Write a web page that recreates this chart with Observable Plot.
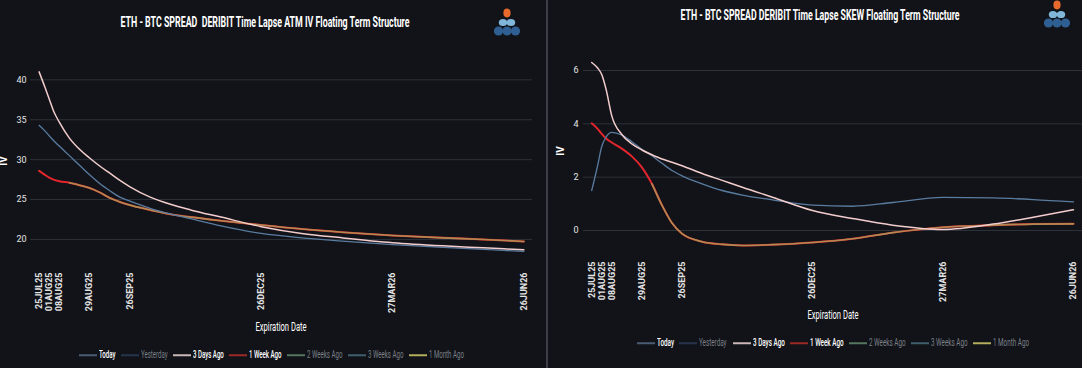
<!DOCTYPE html>
<html>
<head>
<meta charset="utf-8">
<script src="https://cdn.jsdelivr.net/npm/d3@7"></script>
<script src="https://cdn.jsdelivr.net/npm/@observablehq/plot@0.6"></script>
<style>
  html, body { margin:0; padding:0; background:#111318; }
  body { position:relative; width:1082px; height:368px; overflow:hidden; font-family: Roboto, "Liberation Sans", sans-serif; color:#fff; }
  .abs { position:absolute; white-space:pre; line-height:1; }
  .panel { position:absolute; top:0; }
  .divider { position:absolute; left:546px; top:0; width:2px; height:368px; background:#3a3f48; }
  .legend { position:absolute; display:flex; align-items:center; white-space:nowrap; font-size:11.5px; line-height:1; }
  .legend .sw { display:inline-block; width:18px; height:1.6px; margin-right:2px; }
  .legend .tx { display:inline-block; transform-origin:0 50%; }
</style>
</head>
<body>
<script>
// ---------- data ----------
const dates = ["2025-07-25","2025-07-29","2025-08-01","2025-08-04","2025-08-08","2025-08-15","2025-08-22","2025-08-29",
  "2025-09-05","2025-09-12","2025-09-19","2025-09-26","2025-10-10","2025-10-24","2025-11-07","2025-11-28",
  "2025-12-26","2026-01-23","2026-02-20","2026-03-27","2026-05-01","2026-05-29","2026-06-26"];

const expiries = ["2025-07-25","2025-08-01","2025-08-08","2025-08-29","2025-09-26","2025-12-26","2026-03-27","2026-06-26"];
const expiryLabels = ["25JUL25","01AUG25","08AUG25","29AUG25","26SEP25","26DEC25","27MAR26","26JUN26"];

const ivTicks = [20, 25, 30, 35, 40];
const skewTicks = [0, 2, 4, 6];

// ATM IV spread
const ivToday     = [34.3,33.6,33.0,32.4,31.7,30.5,29.3,28.1,27.0,26.1,25.3,24.8,23.9,23.2,22.6,21.7,20.75,20.2,19.8,19.35,19.0,18.75,18.5];
const iv3DaysAgo  = [41.0,39.1,37.6,36.1,34.7,32.7,31.3,30.2,29.2,28.3,27.4,26.6,25.3,24.4,23.7,22.8,21.6,20.75,20.2,19.6,19.2,18.95,18.7];
const iv1WeekAgo  = [28.6,28.1,27.75,27.5,27.3,27.1,26.8,26.45,25.9,25.2,24.7,24.3,23.7,23.15,22.8,22.35,21.8,21.3,20.9,20.5,20.2,20.0,19.75];
const iv1MonthAgo = [null,null,null,null,null,27.1,26.8,26.45,25.9,25.2,24.7,24.3,23.7,23.15,22.8,22.35,21.8,21.3,20.9,20.5,20.2,20.0,19.75];

// SKEW spread
const skToday     = [1.5,2.4,3.15,3.5,3.68,3.58,3.33,3.05,2.8,2.52,2.25,2.05,1.75,1.5,1.33,1.15,0.95,0.91,1.05,1.24,1.22,1.16,1.07];
const sk3DaysAgo  = [6.3,6.1,5.85,5.3,4.3,3.6,3.25,3.02,2.84,2.68,2.56,2.43,2.14,1.88,1.62,1.25,0.75,0.45,0.2,0.04,0.24,0.5,0.78];
const sk1WeekAgo  = [4.02,3.82,3.62,3.45,3.3,3.07,2.78,2.37,1.75,0.95,0.28,-0.12,-0.42,-0.52,-0.56,-0.53,-0.45,-0.31,-0.08,0.12,0.2,0.24,0.25];
const sk1MonthAgo = [null,null,null,null,null,null,null,null,1.75,0.95,0.28,-0.12,-0.42,-0.52,-0.56,-0.53,-0.45,-0.31,-0.08,0.12,0.2,0.24,0.25];

const legendNames  = ["Today","Yesterday","3 Days Ago","1 Week Ago","2 Weeks Ago","3 Weeks Ago","1 Month Ago"];
const legendColors = ["#4a5d75","#27344c","#cbb7b7","#9b2a26","#56775f","#3f5f6c","#b3ad5c"];
const legendActive = [true,false,true,true,false,false,false];

// ---------- helpers ----------
const labelByTime = new Map(expiries.map((d, i) => [+new Date(d), expiryLabels[i]]));

function makeChart(cfg) {
  const rows = [];
  cfg.series.forEach(s => s.values.forEach((v, i) => {
    if (v != null) rows.push({date: new Date(dates[i]), value: v, series: s.name});
  }));
  return Plot.plot({
    width: cfg.width, height: 368,
    marginTop: cfg.top, marginBottom: 368 - cfg.bottom, marginLeft: cfg.ml, marginRight: cfg.mr,
    style: {background: "transparent", color: "#e4e4e4", fontFamily: "Roboto, sans-serif", overflow: "visible"},
    x: {type: "utc", domain: [new Date(expiries[0]), new Date(expiries[expiries.length - 1])], insetLeft: cfg.inL, insetRight: cfg.inR},
    y: {domain: cfg.yDomain},
    marks: [
      Plot.ruleY(cfg.yTicks, {stroke: "#2c313a", strokeWidth: 1}),
      Plot.axisY(cfg.yTicks, {tickSize: 0, tickPadding: cfg.yPad, fontSize: 9, label: null}),
      Plot.axisX(expiries.map(d => new Date(d)), {tickRotate: -90, tickSize: 0, tickPadding: cfg.xPad,
        tickFormat: d => labelByTime.get(+d), fontSize: 9, fontWeight: "bold", label: null}),
      ...cfg.series.map(s => Plot.lineY(rows.filter(r => r.series === s.name),
        {x: "date", y: "value", stroke: s.color, strokeWidth: s.width, curve: "monotone-x"}))
    ]
  });
}

function addText(txt, o) {
  const el = document.createElement("div");
  el.className = "abs";
  el.textContent = txt;
  el.style.left = o.cx + "px";
  el.style.top = o.cy + "px";
  el.style.fontSize = o.size + "px";
  el.style.fontWeight = o.weight || "normal";
  el.style.color = o.color || "#fff";
  document.body.appendChild(el);
  if (o.rotate) {
    el.style.transform = `translate(-50%,-50%) rotate(${o.rotate}deg)`;
  } else {
    const w = el.getBoundingClientRect().width;
    const k = o.w ? o.w / w : 1;
    el.style.transform = `translate(-50%,-50%) scaleX(${k})`;
  }
  return el;
}

function addLegend(x0, cy, totalW) {
  const box = document.createElement("div");
  box.className = "legend";
  box.style.left = x0 + "px";
  box.style.top = cy + "px";
  box.style.transform = "translateY(-50%)";
  document.body.appendChild(box);
  const texts = [];
  legendNames.forEach((n, i) => {
    const sw = document.createElement("span");
    sw.className = "sw";
    sw.style.background = legendColors[i];
    box.appendChild(sw);
    const tx = document.createElement("span");
    tx.className = "tx";
    tx.textContent = n;
    tx.style.color = legendActive[i] ? "#ffffff" : "#7b7f87";
    tx.style.fontWeight = legendActive[i] ? "500" : "normal";
    box.appendChild(tx);
    texts.push(tx);
  });
  const nat = texts.map(t => t.getBoundingClientRect().width);
  const sum = nat.reduce((a, b) => a + b, 0);
  const gap = 5.5;
  const k = (totalW - legendNames.length * 20 - (legendNames.length - 1) * gap) / sum;
  texts.forEach((t, i) => {
    t.style.transform = `scaleX(${k})`;
    t.style.marginRight = (-(nat[i] * (1 - k)) + (i < texts.length - 1 ? gap : 0)) + "px";
  });
}

function addLogo(x, y) {
  const ns = "http://www.w3.org/2000/svg";
  const svg = document.createElementNS(ns, "svg");
  svg.setAttribute("width", 30); svg.setAttribute("height", 34);
  svg.style.position = "absolute";
  svg.style.left = (x - 15) + "px"; svg.style.top = (y - 6) + "px";
  svg.innerHTML = `
    <ellipse cx="15" cy="6" rx="3.6" ry="4.4" fill="#e8692c"/>
    <ellipse cx="11" cy="15.5" rx="4.2" ry="3.6" fill="#7fb6da"/>
    <ellipse cx="19" cy="15.5" rx="4.2" ry="3.6" fill="#7fb6da"/>
    <circle cx="6.5" cy="24" r="4.6" fill="#2f5f92"/>
    <circle cx="15" cy="24" r="4.6" fill="#2f5f92"/>
    <circle cx="23.5" cy="24" r="4.6" fill="#2f5f92"/>`;
  document.body.appendChild(svg);
}

// ---------- left panel: ATM IV ----------
const leftDiv = document.createElement("div");
leftDiv.className = "panel"; leftDiv.style.left = "0px";
document.body.appendChild(leftDiv);
leftDiv.appendChild(makeChart({
  width: 546, top: 55, bottom: 264, ml: 30, mr: 14, inL: 8.6, inR: 8.6,
  yDomain: [16.86, 43.05], yTicks: ivTicks, yPad: 4, xPad: 8,
  series: [
    {name: "1 Week Ago", values: iv1WeekAgo, color: "#e3262d", width: 2},
    {name: "1 Month Ago", values: iv1MonthAgo, color: "#b08a50", width: 1.6},
    {name: "Today", values: ivToday, color: "#5a7ca0", width: 1.3},
    {name: "3 Days Ago", values: iv3DaysAgo, color: "#f3cdcd", width: 1.5}
  ]
}));

// ---------- right panel: SKEW ----------
const rightDiv = document.createElement("div");
rightDiv.className = "panel"; rightDiv.style.left = "548px";
document.body.appendChild(rightDiv);
rightDiv.appendChild(makeChart({
  width: 534, top: 50, bottom: 254, ml: 35, mr: 0, inL: 8.2, inR: 9,
  yDomain: [-0.90, 6.75], yTicks: skewTicks, yPad: 5, xPad: 7,
  series: [
    {name: "1 Week Ago", values: sk1WeekAgo, color: "#e3262d", width: 2},
    {name: "1 Month Ago", values: sk1MonthAgo, color: "#b08a50", width: 1.6},
    {name: "Today", values: skToday, color: "#5a7ca0", width: 1.3},
    {name: "3 Days Ago", values: sk3DaysAgo, color: "#f3cdcd", width: 1.5}
  ]
}));

const div = document.createElement("div");
div.className = "divider";
document.body.appendChild(div);

// ---------- texts ----------
addText("ETH - BTC SPREAD  DERIBIT Time Lapse ATM IV Floating Term Structure", {cx: 265, cy: 22, size: 15, weight: "bold", w: 289});
addText("ETH - BTC SPREAD DERIBIT Time Lapse SKEW Floating Term Structure", {cx: 820, cy: 15, size: 15, weight: "bold", w: 279});
addText("IV", {cx: 4, cy: 161, size: 10, weight: "bold", rotate: -90});
addText("IV", {cx: 561, cy: 151, size: 10, weight: "bold", rotate: -90});
addText("Expiration Date", {cx: 281, cy: 327, size: 12.5, w: 51});
addText("Expiration Date", {cx: 833, cy: 315, size: 12.5, w: 51});

addLegend(79, 355, 385);
addLegend(637, 343, 392);

addLogo(507, 13);
addLogo(1057, 5);
</script>
</body>
</html>
